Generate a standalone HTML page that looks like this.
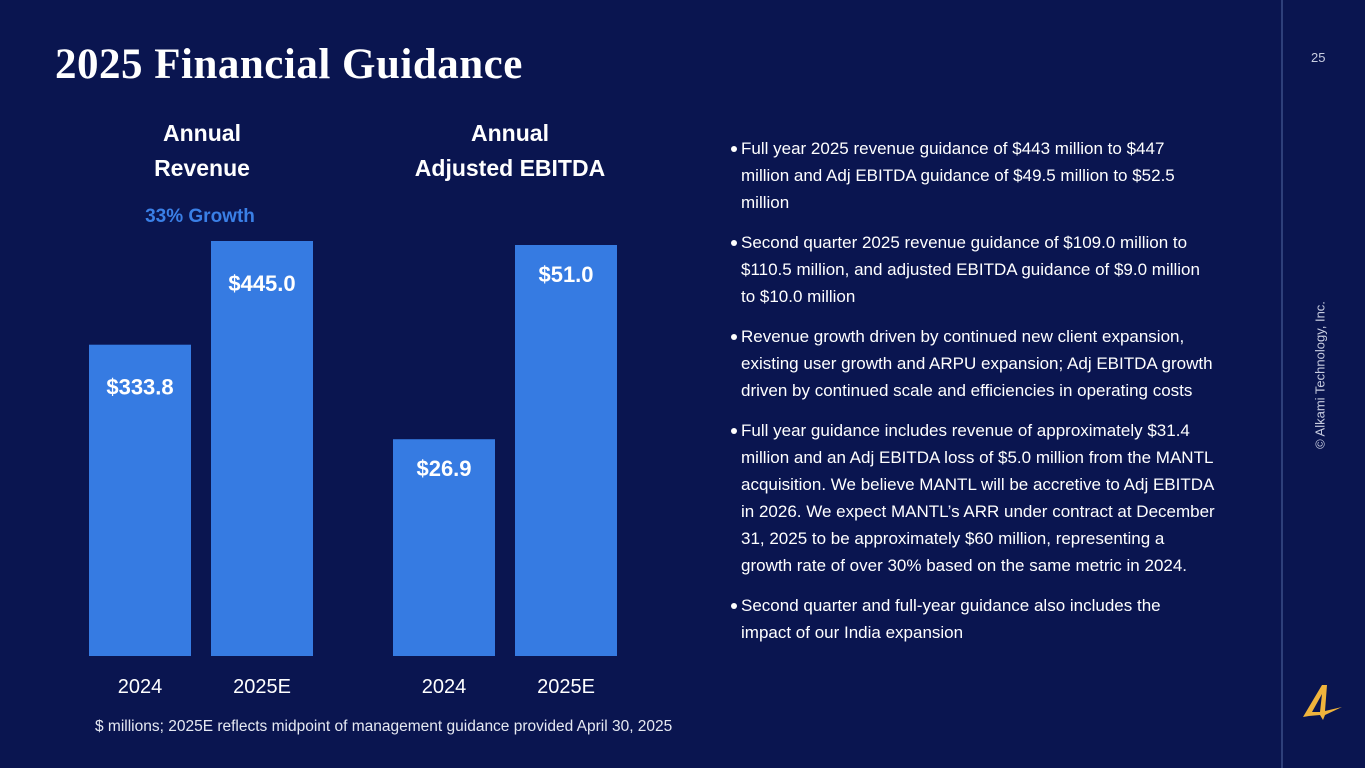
<!DOCTYPE html>
<html><head><meta charset="utf-8"><style>
html,body{margin:0;padding:0;}
body{width:1365px;height:768px;background:#0a1550;position:relative;overflow:hidden;font-family:"Liberation Sans",sans-serif;color:#fff;}
.abs{position:absolute;}
.title{left:55px;top:40px;font-family:"Liberation Serif",serif;font-weight:bold;font-size:43px;letter-spacing:0.5px;}
.bl{position:absolute;left:741px;font-size:17px;line-height:27px;white-space:nowrap;color:#fff;}
.dot{position:absolute;left:-10px;top:11px;width:6px;height:6px;border-radius:50%;background:#fff;}
</style></head><body>
<div class="abs title">2025 Financial Guidance</div>
<div class="abs" style="left:1311px;top:50px;font-size:13px;color:#c8cde0;">25</div>
<div class="abs" style="left:1281px;top:0;width:2px;height:768px;background:#2e3f7a;"></div>
<div class="abs" style="left:1320px;top:375px;transform:translate(-50%,-50%) rotate(-90deg);font-size:13px;color:#c8cde0;white-space:nowrap;">© Alkami Technology, Inc.</div>
<svg class="abs" style="left:1300px;top:682px" width="45" height="40" viewBox="0 0 45 40">
<path d="M3 35 L22 3 L27 3 L25 29 L42 25 L25 33 L23 38 L20 33 L9 34 Z M12 30 L20 30 L22 12 Z" fill="#f0b43c" fill-rule="evenodd"/>
</svg>
<svg class="abs" style="left:0;top:0" width="700" height="768">
<g id="charts"></g>
</svg>
<div class="abs" style="left:95px;top:718px;font-size:15.5px;color:#e6e9f2;">$ millions; 2025E reflects midpoint of management guidance provided April 30, 2025</div>

<div>
<div class="bl" style="top:135px"><span class="dot"></span>Full year 2025 revenue guidance of $443 million to $447</div>
<div class="bl" style="top:162px">million and Adj EBITDA guidance of $49.5 million to $52.5</div>
<div class="bl" style="top:189px">million</div>
<div class="bl" style="top:229px"><span class="dot"></span>Second quarter 2025 revenue guidance of $109.0 million to</div>
<div class="bl" style="top:256px">$110.5 million, and adjusted EBITDA guidance of $9.0 million</div>
<div class="bl" style="top:283px">to $10.0 million</div>
<div class="bl" style="top:323px"><span class="dot"></span>Revenue growth driven by continued new client expansion,</div>
<div class="bl" style="top:350px">existing user growth and ARPU expansion; Adj EBITDA growth</div>
<div class="bl" style="top:377px">driven by continued scale and efficiencies in operating costs</div>
<div class="bl" style="top:417px"><span class="dot"></span>Full year guidance includes revenue of approximately $31.4</div>
<div class="bl" style="top:444px">million and an Adj EBITDA loss of $5.0 million from the MANTL</div>
<div class="bl" style="top:471px">acquisition. We believe MANTL will be accretive to Adj EBITDA</div>
<div class="bl" style="top:498px">in 2026. We expect MANTL’s ARR under contract at December</div>
<div class="bl" style="top:525px">31, 2025 to be approximately $60 million, representing a</div>
<div class="bl" style="top:552px">growth rate of over 30% based on the same metric in 2024.</div>
<div class="bl" style="top:592px"><span class="dot"></span>Second quarter and full-year guidance also includes the</div>
<div class="bl" style="top:619px">impact of our India expansion</div>
</div>

<script>
const categories = ["2024", "2025E"];
const revenueValues = [333.8, 445.0];
const ebitdaValues = [26.9, 51.0];
const revenueLabels = ["$333.8", "$445.0"];
const ebitdaLabels = ["$26.9", "$51.0"];

const NS = "http://www.w3.org/2000/svg";
const g = document.getElementById("charts");
function mk(tag, attrs, txt){
  const e = document.createElementNS(NS, tag);
  for (const k in attrs) e.setAttribute(k, attrs[k]);
  if (txt !== undefined) e.textContent = txt;
  g.appendChild(e);
  return e;
}
function txt(x,y,s,size,weight,fill,name){
  const t = mk("text",{x:x,y:y,"text-anchor":"middle","font-size":size,"font-weight":weight,fill:fill,"font-family":"Liberation Sans, sans-serif"},s);
  
  
}
function chart(x0, base, scale, values, labels, labelOff, prefix){
  values.forEach((v,i)=>{
    const x = x0 + i*122, w = 102, h = v*scale;
    const r = mk("rect",{x:x,y:base-h,width:w,height:h,fill:"#367be2"});
    
    
    txt(x+w/2, base-h+labelOff, labels[i], 22, "bold", "#fff", prefix + '-value-label');
    txt(x+w/2, base+37, categories[i], 20, "normal", "#fff", prefix + '-category-label');
  });
}
const revScale = 415/445;
const ebScale = 411/51;
chart(89, 656, revScale, revenueValues, revenueLabels, 50, "revenue");
chart(393, 656, ebScale, ebitdaValues, ebitdaLabels, 37, "ebitda");
txt(202,141,"Annual",23,"bold","#fff","revenue-title-line1");
txt(202,176,"Revenue",23,"bold","#fff","revenue-title-line2");
txt(200,222,"33% Growth",19,"bold","#3a7fe6","growth-label");
txt(510,141,"Annual",23,"bold","#fff","ebitda-title-line1");
txt(510,176,"Adjusted EBITDA",23,"bold","#fff","ebitda-title-line2");
</script>
</body></html>
